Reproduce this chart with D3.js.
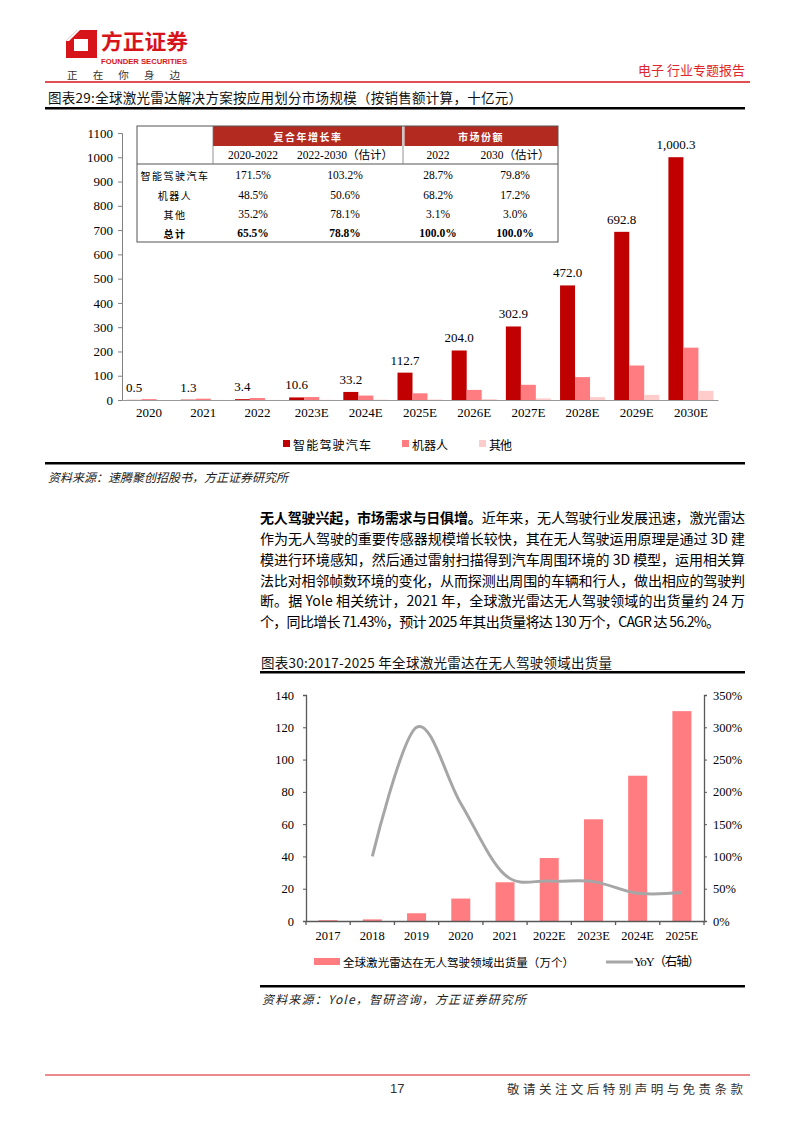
<!DOCTYPE html>
<html><head><meta charset="utf-8">
<script src="https://cdn.jsdelivr.net/npm/d3@7"></script>
<style>body{margin:0;background:#fff}svg{display:block}</style>
</head><body>
<svg id="page" width="794" height="1123"></svg>
<script>
// ---------- Chart 1 data ----------
const years1 = ["2020","2021","2022","2023E","2024E","2025E","2026E","2027E","2028E","2029E","2030E"];
const autoDrive = [0.5,1.3,3.4,10.6,33.2,112.7,204.0,302.9,472.0,692.8,1000.3];
const robot = [3.7,5.4,8.1,12.2,18.3,27.6,41.6,62.6,94.3,142.0,215.6];
const others = [0.2,0.3,0.4,0.7,1.2,2.1,3.7,6.6,11.8,21.0,37.6];
const series1Names = ["智能驾驶汽车","机器人","其他"];
const series1Colors = ["#C00000","#FF7C80","#FFCCCC"];
const yTicks1 = [0,100,200,300,400,500,600,700,800,900,1000,1100];
const tableGroups = ["复合年增长率","市场份额"];
const tableCols = ["2020-2022","2022-2030（估计）","2022","2030（估计）"];
const tableRows = ["智能驾驶汽车","机器人","其他","总计"];
const tableVals = [
  ["171.5%","103.2%","28.7%","79.8%"],
  ["48.5%","50.6%","68.2%","17.2%"],
  ["35.2%","78.1%","3.1%","3.0%"],
  ["65.5%","78.8%","100.0%","100.0%"]
];
// ---------- Chart 2 data ----------
const years2 = ["2017","2018","2019","2020","2021","2022E","2023E","2024E","2025E"];
const shipments = [0.5,1.0,4.8,13.9,24.0,39.0,63.0,90.0,130.0];
const yoy = [null,100,300,182,71.4,62,61,43,44];
const yTicks2 = [0,20,40,60,80,100,120,140];
const yTicks2R = [0,50,100,150,200,250,300,350];
const legend2 = ["全球激光雷达在无人驾驶领域出货量（万个）","YoY（右轴）"];

const CJK = "'Noto Sans CJK SC','Noto Sans',sans-serif";
const SERIF = "'Liberation Serif','Times New Roman','Noto Sans CJK SC',serif";
const RED = "#D7141A";

const svg = d3.select("#page");
svg.append("rect").attr("width",794).attr("height",1123).attr("fill","#fff");

function txt(g, x, y, s, o={}) {
  const t = g.append("text").attr("x",x).attr("y",y).text(s)
    .attr("font-family", o.ff || CJK).attr("font-size", o.fs || 12)
    .attr("fill", o.fill || "#000").attr("text-anchor", o.anchor || "start")
    .attr("dominant-baseline", o.db || "central");
  if (o.fw) t.attr("font-weight", o.fw);
  if (o.fst) t.attr("font-style", o.fst);
  if (o.tl) t.attr("textLength", o.tl).attr("lengthAdjust", o.la || "spacing");
  if (o.ls) t.attr("letter-spacing", o.ls);
  return t;
}

// ---------- Header ----------
const hd = svg.append("g");
hd.append("path").attr("d","M66,41 L77,30 L97,30 L97,58 L66,58 Z").attr("fill",RED);
hd.append("path").attr("d","M74,39 L88,39 L88,51 L74,51 Z").attr("fill","#fff");
hd.append("path").attr("d","M66,41 L77,30 L80,30 L69,41 Z").attr("fill","#fff");
txt(hd,101,40,"方正证券",{fs:21,fw:"bold",fill:RED,tl:87,la:"spacingAndGlyphs"});
txt(hd,101,61,"FOUNDER SECURITIES",{ff:"'Liberation Sans',Arial,sans-serif",fs:8,fw:"bold",fill:RED,tl:86,la:"spacingAndGlyphs"});
txt(hd,67,74,"正在你身边",{fs:10.5,fill:"#333",tl:113});
txt(hd,745,69,"电子 行业专题报告",{fs:13,fill:"#E0252B",anchor:"end"});
hd.append("line").attr("x1",45).attr("x2",750).attr("y1",82).attr("y2",82).attr("stroke",RED).attr("stroke-width",1.5);

// ---------- Chart 1 ----------
const c1 = svg.append("g");
txt(c1,48,97,"图表29:全球激光雷达解决方案按应用划分市场规模（按销售额计算，十亿元）",{fs:13.5,fill:"#111",tl:474});
c1.append("rect").attr("x",45).attr("y",107).attr("width",700).attr("height",2.5).attr("fill","#000");

const x1 = d3.scaleBand().domain(years1).range([122,718]);
const y1 = d3.scaleLinear().domain([0,1100]).range([400,133]);
const sub1 = d3.scaleBand().domain(series1Names).range([x1.bandwidth()/2-22.5, x1.bandwidth()/2+22.5]);
const seriesData1 = [autoDrive, robot, others];

const yAx1 = c1.append("g").attr("transform","translate(122,0)")
  .call(d3.axisLeft(y1).tickValues(yTicks1).tickSize(4).tickPadding(5).tickFormat(d3.format("d")));
yAx1.select(".domain").attr("stroke","#808080");
yAx1.selectAll(".tick line").attr("stroke","#808080");
yAx1.selectAll(".tick text").attr("font-family",SERIF).attr("font-size",13).attr("fill","#000");

seriesData1.forEach((arr,si)=>{
  c1.append("g").selectAll("rect").data(arr).join("rect")
    .attr("x",(d,i)=>x1(years1[i])+sub1(series1Names[si]))
    .attr("width",sub1.bandwidth())
    .attr("y",d=>y1(d)).attr("height",d=>y1(0)-y1(d))
    .attr("fill",series1Colors[si]);
});
const xAx1 = c1.append("g").attr("transform","translate(0,400)")
  .call(d3.axisBottom(x1).tickSize(0).tickPadding(8));
xAx1.select(".domain").attr("stroke","#999").attr("stroke-width",1.2);
xAx1.selectAll(".tick text").attr("font-family",SERIF).attr("font-size",13).attr("fill","#000");

const fmt1 = d3.format(",.1f");
c1.append("g").selectAll("text").data(autoDrive).join("text")
  .attr("x",(d,i)=>x1(years1[i])+sub1(series1Names[0])+sub1.bandwidth()/2)
  .attr("y",d=>y1(d)-8)
  .attr("text-anchor","middle").attr("font-family",SERIF).attr("font-size",13)
  .text(d=>fmt1(d));

const lg1x = [283,402,479];
series1Names.forEach((n,i)=>{
  c1.append("rect").attr("x",lg1x[i]).attr("y",440).attr("width",7).attr("height",7).attr("fill",series1Colors[i]);
  txt(c1,lg1x[i]+10,444,n,{fs:12,fill:"#000",tl:[78,36,23][i]});
});

// table
const tb = c1.append("g");
const tL=137,tR=558,tT=126,tB=242, hdr1B=146, hdr2B=164, colSep=[213,403];
tb.append("rect").attr("x",colSep[0]).attr("y",tT).attr("width",colSep[1]-colSep[0]-1).attr("height",hdr1B-tT).attr("fill","#B22A20");
tb.append("rect").attr("x",colSep[1]+1.5).attr("y",tT).attr("width",tR-colSep[1]-1.5).attr("height",hdr1B-tT).attr("fill","#B22A20");
tb.append("rect").attr("x",tL).attr("y",tT).attr("width",tR-tL).attr("height",tB-tT).attr("fill","none").attr("stroke","#555").attr("stroke-width",1);
tb.append("line").attr("x1",tL).attr("x2",tR).attr("y1",hdr2B).attr("y2",hdr2B).attr("stroke","#555").attr("stroke-width",1);
tb.append("line").attr("x1",colSep[0]).attr("x2",colSep[0]).attr("y1",tT).attr("y2",hdr2B).attr("stroke","#777").attr("stroke-width",0.8);
tb.append("line").attr("x1",colSep[1]).attr("x2",colSep[1]).attr("y1",tT).attr("y2",hdr2B).attr("stroke","#777").attr("stroke-width",0.8);
txt(tb,308,136,tableGroups[0],{fs:10,fw:"bold",fill:"#fff",anchor:"middle",ls:1.5});
txt(tb,481,136,tableGroups[1],{fs:10,fw:"bold",fill:"#fff",anchor:"middle",ls:1.5});
const colX=[253,345,438,515];
tableCols.forEach((c,i)=>txt(tb,colX[i],155,c,{ff:SERIF,fs:11.5,anchor:"middle"}));
const rowY=[175,195,214,233];
tableRows.forEach((r,ri)=>{
  const bold = ri===3;
  txt(tb,175,rowY[ri],r,{fs:10,anchor:"middle",ls:1.5,fw:bold?"bold":null});
  tableVals[ri].forEach((v,ci)=>txt(tb,colX[ci],rowY[ri],v,{ff:SERIF,fs:11.5,anchor:"middle",fw:bold?"bold":null}));
});

c1.append("rect").attr("x",45).attr("y",462).attr("width",700).attr("height",2.5).attr("fill","#000");
txt(c1,48,476,"资料来源：速腾聚创招股书，方正证券研究所",{fs:12,fst:"italic",fill:"#222",tl:240});

// ---------- Paragraph ----------
const pg = svg.append("g");
const lineY=[517,538,559,579.5,600,621];
const l1 = pg.append("text").attr("x",260).attr("y",lineY[0]).attr("dominant-baseline","central")
  .attr("font-family",CJK).attr("font-size",14).attr("textLength",485).attr("lengthAdjust","spacing");
l1.append("tspan").attr("font-weight","bold").text("无人驾驶兴起，市场需求与日俱增。");
l1.append("tspan").text("近年来，无人驾驶行业发展迅速，激光雷达");
const paraLines = [
  "作为无人驾驶的重要传感器规模增长较快，其在无人驾驶运用原理是通过 3D 建",
  "模进行环境感知，然后通过雷射扫描得到汽车周围环境的 3D 模型，运用相关算",
  "法比对相邻帧数环境的变化，从而探测出周围的车辆和行人，做出相应的驾驶判",
  "断。据 Yole 相关统计，2021 年，全球激光雷达无人驾驶领域的出货量约 24 万",
  "个，同比增长 71.43%，预计 2025 年其出货量将达 130 万个，CAGR 达 56.2%。"
];
paraLines.forEach((s,i)=>{
  txt(pg,260,lineY[i+1],s,{fs:14,tl: i<4 ? 485 : 460});
});

// ---------- Chart 2 ----------
const c2 = svg.append("g");
txt(c2,261,662,"图表30:2017-2025 年全球激光雷达在无人驾驶领域出货量",{fs:13.5,fill:"#111",tl:351});
c2.append("rect").attr("x",260).attr("y",671).attr("width",485).attr("height",2.5).attr("fill","#000");

const x2 = d3.scaleBand().domain(years2).range([306,704]);
const y2 = d3.scaleLinear().domain([0,140]).range([921,695]);
const y2r = d3.scaleLinear().domain([0,350]).range([921,695]);

c2.append("g").selectAll("rect").data(shipments).join("rect")
  .attr("x",(d,i)=>x2(years2[i])+x2.bandwidth()/2-9.5).attr("width",19)
  .attr("y",d=>y2(d)).attr("height",d=>y2(0)-y2(d)).attr("fill","#FF7C80");

const line2 = d3.line().defined(d=>d!=null)
  .x((d,i)=>x2(years2[i])+x2.bandwidth()/2).y(d=>y2r(d)).curve(d3.curveCatmullRom.alpha(0));
c2.append("path").datum(yoy).attr("d",line2).attr("fill","none").attr("stroke","#A6A6A6").attr("stroke-width",3);

const ax2c = "#595959";
const yl2 = c2.append("g").attr("transform","translate(306,0)")
  .call(d3.axisLeft(y2).tickValues(yTicks2).tickSize(3).tickPadding(9).tickFormat(d3.format("d")));
const yr2 = c2.append("g").attr("transform","translate(704,0)")
  .call(d3.axisRight(y2r).tickValues(yTicks2R).tickSize(3).tickPadding(6).tickFormat(d=>d+"%"));
const xb2 = c2.append("g").attr("transform","translate(0,921)")
  .call(d3.axisBottom(x2).tickSize(0).tickPadding(10));
[yl2,yr2,xb2].forEach(a=>{
  a.select(".domain").attr("stroke",ax2c).attr("stroke-width",1.3);
  a.selectAll(".tick line").attr("stroke",ax2c);
  a.selectAll(".tick text").attr("font-family",SERIF).attr("font-size",12.5).attr("fill","#000");
});
c2.append("g").selectAll("line").data(years2.concat(["end"])).join("line")
  .attr("x1",(d,i)=> i<years2.length ? x2(d) : x2.range()[1])
  .attr("x2",(d,i)=> i<years2.length ? x2(d) : x2.range()[1])
  .attr("y1",921).attr("y2",925).attr("stroke",ax2c).attr("stroke-width",1.3);

c2.append("rect").attr("x",314).attr("y",958).attr("width",26).attr("height",7).attr("fill","#FF7C80");
txt(c2,343,962,legend2[0],{fs:11.5,tl:231});
c2.append("line").attr("x1",606).attr("x2",633).attr("y1",962).attr("y2",962).attr("stroke","#A6A6A6").attr("stroke-width",3);
txt(c2,634,962,legend2[1],{ff:SERIF,fs:12.5,tl:66});

c2.append("rect").attr("x",260).attr("y",985).attr("width",485).attr("height",2.5).attr("fill","#000");
txt(c2,262,998,"资料来源：Yole，智研咨询，方正证券研究所",{fs:12,fst:"italic",fill:"#222",tl:264});

// ---------- Footer ----------
const ft = svg.append("g");
ft.append("line").attr("x1",45).attr("x2",750).attr("y1",1075).attr("y2",1075).attr("stroke",RED).attr("stroke-width",1);
txt(ft,390,1088,"17",{ff:"'Liberation Sans',Arial,sans-serif",fs:13,fill:"#333"});
txt(ft,507,1088,"敬请关注文后特别声明与免责条款",{fs:12.5,fill:"#333",tl:236});
</script>
</body></html>
